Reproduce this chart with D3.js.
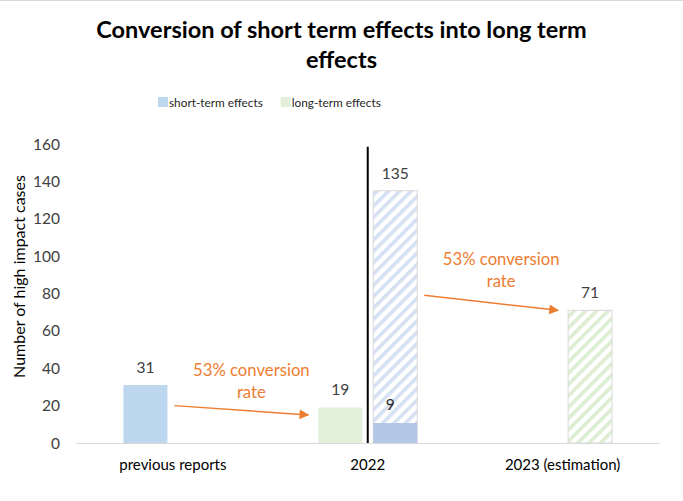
<!DOCTYPE html>
<html>
<head>
<meta charset="utf-8">
<script src="https://cdn.jsdelivr.net/npm/d3@7"></script>
<style>
  body { margin: 0; background: #fff; }
  svg { display: block; font-family: Lato, "Open Sans", "Liberation Sans", sans-serif; }
</style>
</head>
<body>
<div class="chart"></div>
<script>
const categories = ['previous reports', '2022', '2023 (estimation)'];
const yTicks = [0, 20, 40, 60, 80, 100, 120, 140, 160];

// bars: slot 0 = left bar of the group, slot 1 = right bar
const solidShort = [{ cat: 'previous reports', slot: 0, value: 31, label: '31' }];
const solidLong = [{ cat: '2022', slot: 0, value: 19, label: '19' }];
const hatchedShort = [{ cat: '2022', slot: 1, value: 135, label: '135' }];
const stackedShort = [{ cat: '2022', slot: 1, value: 10.7, label: '9' }];
const hatchedLong = [{ cat: '2023 (estimation)', slot: 1, value: 71, label: '71' }];

const legendItems = [
    { text: 'short-term effects', color: '#BDD7EE' },
    { text: 'long-term effects', color: '#E2EFDA' }
];

// arrows run from [category, slot, y value] to [category, slot, y value]
const annotations = [
    { lines: ['53% conversion', 'rate'], from: ['previous reports', 0, 20], to: ['2022', 0, 15] },
    { lines: ['53% conversion', 'rate'], from: ['2022', 1, 79], to: ['2023 (estimation)', 1, 71] }
];

(function drawChart() {
    const width = 683, height = 501;
    const margin = { top: 144, right: 23, bottom: 58, left: 75.5 };

    const svg = d3.select('.chart').append('svg')
        .attr('width', width)
        .attr('height', height);

    const defs = svg.append('defs');
    function hatch(id, color) {
        const p = defs.append('pattern')
            .attr('id', id)
            .attr('patternUnits', 'userSpaceOnUse')
            .attr('width', 8).attr('height', 8)
            .attr('patternTransform', 'rotate(45)');
        p.append('rect').attr('width', 8).attr('height', 8).attr('fill', '#fff');
        p.append('rect').attr('width', 3.6).attr('height', 8).attr('fill', color);
    }
    hatch('hatch-blue', '#D6E0F3');
    hatch('hatch-green', '#DCEDD2');

    svg.append('line')
        .attr('x1', 0).attr('x2', width).attr('y1', 0.5).attr('y2', 0.5)
        .attr('stroke', '#D9D9D9');

    const x0 = d3.scaleBand().domain(categories).range([margin.left, width - margin.right]);
    const x1 = d3.scaleBand().domain([0, 1]).range([0, x0.bandwidth()])
        .paddingInner(0.2).paddingOuter(0.873);
    const y = d3.scaleLinear().domain([0, 160]).range([height - margin.bottom, margin.top]);

    const bx = d => x0(d.cat) + x1(d.slot);
    const g = svg.append('g');

    function bars(data, fill, stroke) {
        g.selectAll(null).data(data).enter().append('rect')
            .attr('x', bx)
            .attr('y', d => y(d.value))
            .attr('width', x1.bandwidth())
            .attr('height', d => y(0) - y(d.value))
            .attr('fill', fill)
            .attr('stroke', stroke || 'none');
    }
    bars(solidShort, '#BDD7EE');
    bars(solidLong, '#E2EFDA');
    bars(hatchedShort, 'url(#hatch-blue)', '#D9D9D9');
    bars(stackedShort, '#B4C7E7');
    bars(hatchedLong, 'url(#hatch-green)', '#D9D9D9');

    // value labels
    const labelData = [].concat(solidShort, solidLong, hatchedShort, hatchedLong);
    g.selectAll(null).data(labelData).enter().append('text')
        .attr('x', d => bx(d) + x1.bandwidth() / 2)
        .attr('y', d => y(d.value) - 12)
        .attr('text-anchor', 'middle')
        .attr('font-size', 15.5)
        .attr('fill', '#404040')
        .text(d => d.label);
    g.selectAll(null).data(stackedShort).enter().append('text')
        .attr('x', d => bx(d) + x1.bandwidth() / 2 - 5)
        .attr('y', d => y(d.value) - 13)
        .attr('text-anchor', 'middle')
        .attr('font-size', 15.5)
        .attr('fill', '#262626')
        .text(d => d.label);

    // separator line in the 2022 group
    const sepX = x0('2022') + x0.bandwidth() / 2;
    svg.append('line')
        .attr('x1', sepX).attr('x2', sepX)
        .attr('y1', y(158.5)).attr('y2', y(0))
        .attr('stroke', '#000').attr('stroke-width', 2);

    // x axis
    svg.append('line')
        .attr('x1', margin.left).attr('x2', width - margin.right)
        .attr('y1', y(0) + 0.5).attr('y2', y(0) + 0.5)
        .attr('stroke', '#D9D9D9');
    svg.selectAll(null).data(categories).enter().append('text')
        .attr('x', d => x0(d) + x0.bandwidth() / 2)
        .attr('y', y(0) + 27)
        .attr('text-anchor', 'middle')
        .attr('font-size', 15)
        .attr('fill', '#000')
        .text(d => d);

    // y axis labels
    svg.selectAll(null).data(yTicks).enter().append('text')
        .attr('x', 60)
        .attr('y', d => y(d) + 5.5)
        .attr('text-anchor', 'end')
        .attr('font-size', 15.5)
        .attr('fill', '#404040')
        .text(d => d);

    svg.append('text')
        .attr('transform', `translate(25,${(y(0) + y(160)) / 2 - 17}) rotate(-90)`)
        .attr('text-anchor', 'middle')
        .attr('font-size', 16)
        .attr('fill', '#000')
        .text('Number of high impact cases');

    // title
    const title = svg.append('text')
        .attr('text-anchor', 'middle')
        .attr('font-size', 23.5)
        .attr('font-weight', 'bold')
        .attr('fill', '#000');
    title.append('tspan').attr('x', width / 2).attr('y', 38).text('Conversion of short term effects into long term');
    title.append('tspan').attr('x', width / 2).attr('y', 68).text('effects');

    // legend
    const legend = svg.append('g');
    let lx = 158;
    legendItems.forEach(item => {
        legend.append('rect')
            .attr('x', lx).attr('y', 97).attr('width', 10).attr('height', 10)
            .attr('fill', item.color);
        const t = legend.append('text')
            .attr('x', lx + 11).attr('y', 107)
            .attr('font-size', 11.8)
            .attr('fill', '#262626')
            .text(item.text);
        lx += 11 + t.node().getComputedTextLength() + 18;
    });

    // annotations with arrows
    defs.append('marker')
        .attr('id', 'arrow')
        .attr('viewBox', '0 0 10 10')
        .attr('refX', 9).attr('refY', 5)
        .attr('markerWidth', 7.5).attr('markerHeight', 6.5)
        .attr('markerUnits', 'strokeWidth')
        .attr('orient', 'auto')
        .append('path')
        .attr('d', 'M0,0 L10,5 L0,10 Z')
        .attr('fill', '#ED7D31');

    annotations.forEach(a => {
        const fx = x0(a.from[0]) + x1(a.from[1]) + x1.bandwidth() + 7;
        const tx = x0(a.to[0]) + x1(a.to[1]) - 10;
        const fy = y(a.from[2]);
        const ty = y(a.to[2]);
        svg.append('line')
            .attr('x1', fx).attr('y1', fy)
            .attr('x2', tx).attr('y2', ty)
            .attr('stroke', '#ED7D31')
            .attr('stroke-width', 1.5)
            .attr('marker-end', 'url(#arrow)');
        const cx = (fx + tx) / 2 + 10;
        const t = svg.append('text')
            .attr('text-anchor', 'middle')
            .attr('font-size', 16.7)
            .attr('fill', '#ED7D31');
        a.lines.forEach((line, i) => {
            t.append('tspan').attr('x', cx).attr('y', fy - 30 + i * 22).text(line);
        });
    });
})();
</script>
</body>
</html>
